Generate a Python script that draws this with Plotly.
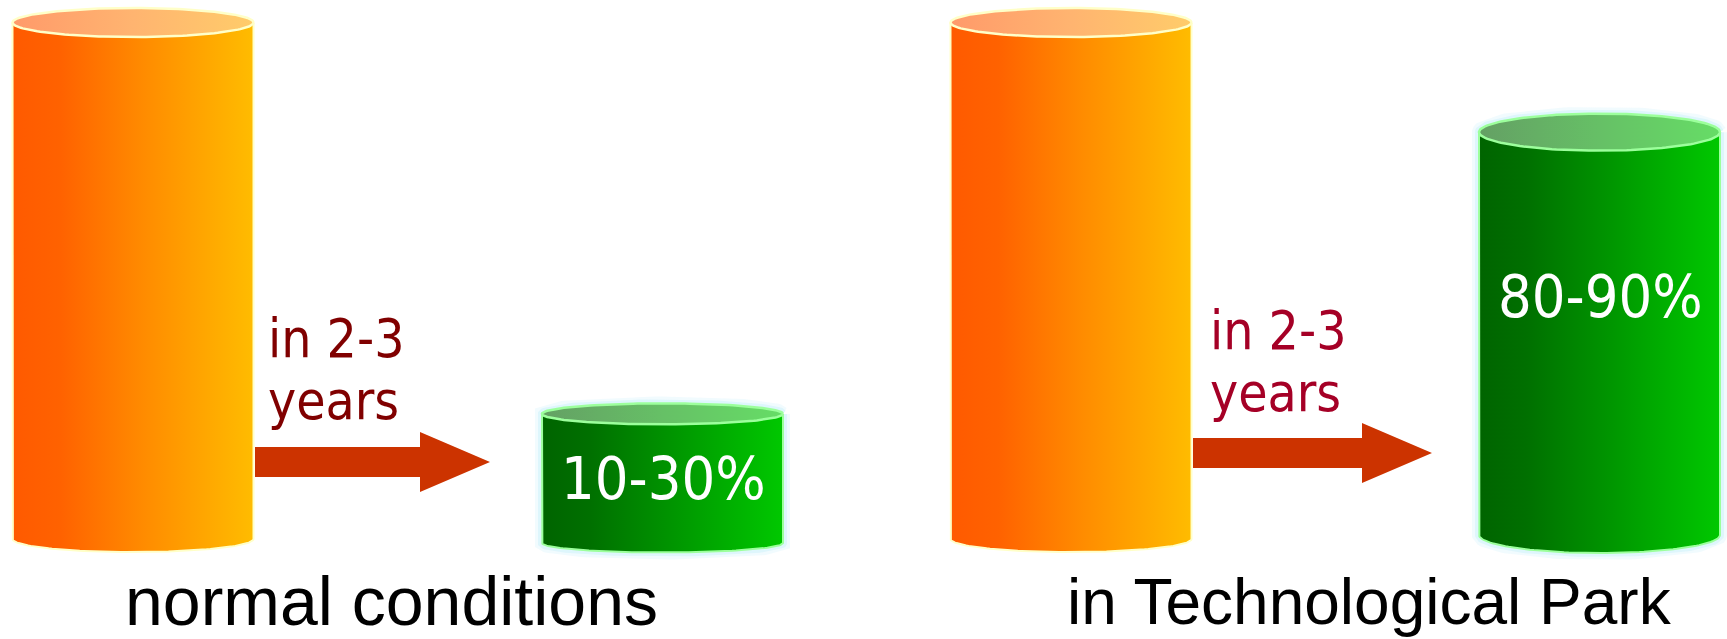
import numpy as np
import plotly.graph_objects as go

# ---------------- data ----------------
groups = ["normal conditions", "in Technological Park"]
before_values = [100, 100]          # orange cylinder (starting level, relative)
after_values = [25, 78]             # green cylinder (level after 2-3 years, relative)
after_labels = ["10-30%", "80-90%"]
arrow_line1 = ["in 2-3", "in 2-3"]
arrow_line2 = ["years", "years"]

# ---------------- layout constants ----------------
W, H = 1727, 639
BASE_PX = 539.0
PX_PER_UNIT = 5.165


def yv(px):
    return (BASE_PX - px) / PX_PER_UNIT


def ru(px):
    return px / PX_PER_UNIT


orange_cx = [133, 1071]
green_cx = [662.5, 1599.5]
RX = 120.5
orange_base_px = [539, 539]
green_base_px = [543, 535]
orange_ry_top, orange_ry_bot = 14.5, 13
green_ry_top = [10.5, 18.5]
green_ry_bot = [9.5, 18]

ORANGE_BODY = [[0, "#FF5A00"], [0.2, "#FF6200"], [0.55, "#FF8C00"], [1, "#FFBC00"]]
ORANGE_TOP = [[0, "#FF9A6A"], [0.5, "#FFB470"], [1, "#FFCC6A"]]
GREEN_BODY = [[0, "#006400"], [0.2, "#007000"], [0.55, "#009600"], [1, "#00C800"]]
GREEN_TOP = [[0, "#64A064"], [0.5, "#66C066"], [1, "#66DD66"]]

fig = go.Figure()


def cylinder(cx, base_px, height, ry_top_px, ry_bot_px, body_cs, top_cs, outline, glow=None):
    base = yv(base_px)
    top = base + height
    ryt, ryb = ru(ry_top_px), ru(ry_bot_px)
    th_b = np.linspace(np.pi, 2 * np.pi, 80)
    bx = cx + RX * np.cos(th_b)
    by = base + ryb * np.sin(th_b)
    body_x = np.concatenate([[cx - RX], bx, [cx + RX, cx - RX]])
    body_y = np.concatenate([[top], by, [top, top]])
    th = np.linspace(0, 2 * np.pi, 160)
    tx = cx + RX * np.cos(th)
    ty = top + ryt * np.sin(th)
    th_t = np.linspace(0, np.pi, 80)
    sil_x = np.concatenate([cx + RX * np.cos(th_t), bx, [cx + RX]])
    sil_y = np.concatenate([top + ryt * np.sin(th_t), by, [top]])
    if glow:
        for w, a in [(14, 0.25), (8, 0.45)]:
            fig.add_trace(go.Scatter(x=sil_x, y=sil_y, mode="lines",
                                     line=dict(color=glow.format(a), width=w),
                                     hoverinfo="skip"))
    fig.add_trace(go.Scatter(x=body_x, y=body_y, mode="lines", fill="toself",
                             line=dict(width=0, color="rgba(0,0,0,0)"),
                             fillgradient=dict(type="horizontal", colorscale=body_cs),
                             hoverinfo="skip"))
    fig.add_trace(go.Scatter(x=np.concatenate([[cx - RX], bx, [cx + RX]]),
                             y=np.concatenate([[top], by, [top]]),
                             mode="lines", line=dict(color=outline, width=2),
                             hoverinfo="skip"))
    fig.add_trace(go.Scatter(x=tx, y=ty, mode="lines", fill="toself",
                             line=dict(width=2.5, color=outline),
                             fillgradient=dict(type="horizontal", colorscale=top_cs),
                             hoverinfo="skip"))


for i in range(len(groups)):
    cylinder(orange_cx[i], orange_base_px[i], before_values[i],
             orange_ry_top, orange_ry_bot, ORANGE_BODY, ORANGE_TOP, "#FFFFC8")
    cylinder(green_cx[i], green_base_px[i], after_values[i],
             green_ry_top[i], green_ry_bot[i], GREEN_BODY, GREEN_TOP, "#9CFF9C",
             glow="rgba(200,240,250,{})")

# arrows
ARROW_COLOR = "#CC3300"
arrow_geo = [  # shaft x0, shaft x1, y center px, shaft half height, head half height, tip x
    (255, 420, 462, 15, 30, 490),
    (1193, 1362, 453, 15, 30, 1432),
]
for (x0, x1, yc, sh, hh, tip) in arrow_geo:
    ax = [x0, x1, x1, tip, x1, x1, x0, x0]
    ay = [yv(yc - sh), yv(yc - sh), yv(yc - hh), yv(yc), yv(yc + hh), yv(yc + sh), yv(yc + sh), yv(yc - sh)]
    fig.add_trace(go.Scatter(x=ax, y=ay, mode="lines", fill="toself", fillcolor=ARROW_COLOR,
                             line=dict(width=0, color=ARROW_COLOR), hoverinfo="skip"))

annotations = []
SMALL_FONT = "'DejaVu Sans Condensed', 'DejaVu Sans', Tahoma, sans-serif"
arrow_text_colors = ["#800000", "#A50026"]
arrow_text_x = [266, 1208]
arrow_base1 = [358, 350]
arrow_base2 = [420, 412]
fs = 53
for i in range(len(groups)):
    annotations.append(dict(x=arrow_text_x[i], y=yv(arrow_base1[i] - 0.36 * fs), text=arrow_line1[i],
                            xanchor="left", yanchor="middle", showarrow=False,
                            font=dict(family=SMALL_FONT, size=fs, color=arrow_text_colors[i])))
    annotations.append(dict(x=arrow_text_x[i], y=yv(arrow_base2[i] - 0.36 * fs), text=arrow_line2[i],
                            xanchor="left", yanchor="middle", showarrow=False,
                            font=dict(family=SMALL_FONT, size=fs, color=arrow_text_colors[i])))

# value labels inside green cylinders
value_base = [500, 318]
vfs = 59
for i in range(len(groups)):
    annotations.append(dict(x=green_cx[i] + 1, y=yv(value_base[i] - 0.36 * vfs), text=after_labels[i],
                            xanchor="center", yanchor="middle", showarrow=False,
                            font=dict(family=SMALL_FONT, size=vfs, color="white")))

# group labels
group_cx = [391, 1369]
group_fs = [68, 64]
for i in range(len(groups)):
    annotations.append(dict(x=group_cx[i], y=yv(624 - 0.34 * group_fs[i]), text=groups[i],
                            xanchor="center", yanchor="middle", showarrow=False,
                            font=dict(family="'Liberation Sans Narrow', 'Arial Narrow', 'Liberation Sans', Arial, sans-serif",
                                      size=group_fs[i], color="black")))

fig.update_layout(
    width=W, height=H,
    margin=dict(l=0, r=0, t=0, b=0),
    paper_bgcolor="white", plot_bgcolor="white",
    showlegend=False,
    xaxis=dict(range=[0, W], visible=False, fixedrange=True),
    yaxis=dict(range=[yv(H), yv(0)], visible=False, fixedrange=True),
    annotations=annotations,
)

fig.write_html("out.html", config={"displayModeBar": False},
               post_script="document.body.style.margin='0';document.body.style.overflow='hidden';")
